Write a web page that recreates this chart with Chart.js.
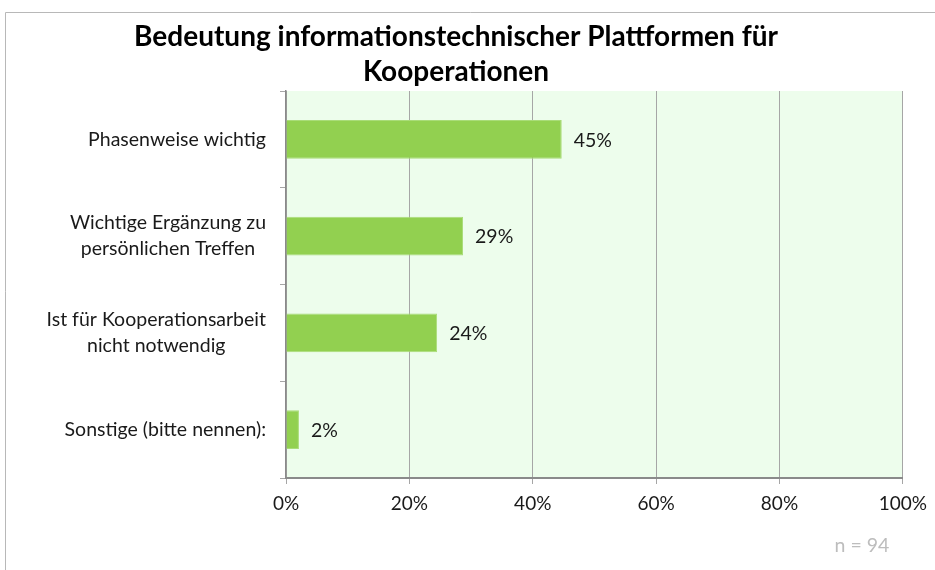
<!DOCTYPE html>
<html>
<head>
<meta charset="utf-8">
<script src="https://cdn.jsdelivr.net/npm/chart.js@4.4.1/dist/chart.umd.min.js"></script>
<style>
  html, body { margin: 0; padding: 0; background: #fff; }
  #wrap { position: relative; width: 935px; height: 570px; }
</style>
</head>
<body>
<div id="wrap"><canvas id="plattformChart" width="935" height="570"></canvas></div>
<script>
// Daten
const kategorien = [
    ['Phasenweise wichtig'],
    ['Wichtige Ergänzung zu', 'persönlichen Treffen'],
    ['Ist für Kooperationsarbeit', 'nicht notwendig'],
    ['Sonstige (bitte nennen):']
];
const anteile = [44.7, 28.7, 24.5, 2.1];
const wertLabels = ['45%', '29%', '24%', '2%'];
const achsenTicks = [0, 20, 40, 60, 80, 100];
const titelZeilen = ['Bedeutung informationstechnischer Plattformen für', 'Kooperationen'];
const stichprobe = 'n = 94';

const schrift = 'Lato, "Open Sans", sans-serif';

const deko = {
    id: 'deko',
    beforeDraw(chart) {
        const ctx = chart.ctx;
        const a = chart.chartArea;
        ctx.save();
        ctx.fillStyle = '#ffffff';
        ctx.fillRect(0, 0, chart.width, chart.height);
        // Rahmen
        ctx.strokeStyle = '#b8b8b8';
        ctx.lineWidth = 1;
        ctx.beginPath();
        ctx.moveTo(5.5, chart.height);
        ctx.lineTo(5.5, 12.5);
        ctx.lineTo(chart.width, 12.5);
        ctx.stroke();
        // Hintergrund Zeichenfläche
        ctx.fillStyle = '#edfdec';
        ctx.fillRect(a.left, a.top, a.right - a.left, a.bottom - a.top);
        ctx.restore();
    },
    afterDatasetsDraw(chart) {
        const ctx = chart.ctx;
        const meta = chart.getDatasetMeta(0);
        ctx.save();
        ctx.font = '19.5px ' + schrift;
        ctx.fillStyle = '#1a1a1a';
        ctx.textAlign = 'left';
        ctx.textBaseline = 'middle';
        meta.data.forEach(function(bar, i) {
            ctx.fillText(wertLabels[i], bar.x + 12, bar.y + 1);
        });
        ctx.restore();
    },
    afterDraw(chart) {
        const ctx = chart.ctx;
        const yScale = chart.scales.y;
        ctx.save();
        ctx.font = '19.5px ' + schrift;
        ctx.fillStyle = '#1a1a1a';
        ctx.textAlign = 'center';
        ctx.textBaseline = 'middle';
        const zeilenHoehe = 26;
        const rechts = chart.chartArea.left - 20;
        kategorien.forEach(function(zeilen, i) {
            const mitte = yScale.getPixelForValue(i);
            const breite = Math.max.apply(null, zeilen.map(z => ctx.measureText(z).width));
            const cx = rechts - breite / 2;
            const start = mitte - (zeilen.length - 1) * zeilenHoehe / 2;
            zeilen.forEach(function(z, k) {
                ctx.fillText(z, cx, start + k * zeilenHoehe);
            });
        });
        // Stichprobe
        ctx.fillStyle = '#bdbdbd';
        ctx.fillText(stichprobe, 862, 546);
        ctx.restore();
    }
};

const ctx = document.getElementById('plattformChart').getContext('2d');
new Chart(ctx, {
    type: 'bar',
    data: {
        labels: kategorien,
        datasets: [{
            data: anteile,
            backgroundColor: '#92d050',
            borderColor: '#a9dc78',
            borderWidth: 1,
            borderSkipped: 'left',
            barPercentage: 0.4,
            categoryPercentage: 1.0
        }]
    },
    options: {
        indexAxis: 'y',
        responsive: false,
        animation: false,
        layout: {
            padding: { left: 6, right: 29, top: 14, bottom: 0 }
        },
        plugins: {
            legend: { display: false },
            tooltip: { enabled: false },
            title: {
                display: true,
                text: titelZeilen,
                color: '#000000',
                font: { family: schrift, size: 28, weight: 'bold', lineHeight: 1.25 },
                padding: { top: 5, bottom: 2 }
            }
        },
        scales: {
            x: {
                min: 0,
                max: 100,
                afterBuildTicks: function(scale) {
                    scale.ticks = achsenTicks.map(v => ({ value: v }));
                },
                afterFit: function(scale) {
                    scale.height = 92;
                },
                ticks: {
                    callback: v => v + '%',
                    color: '#1a1a1a',
                    padding: 8,
                    font: { family: schrift, size: 19 }
                },
                grid: {
                    color: '#a6a6a6',
                    lineWidth: 1,
                    tickLength: 6,
                    drawTicks: true
                },
                border: { color: '#8a8a8a', width: 2 }
            },
            y: {
                ticks: { display: false },
                afterFit: function(scale) {
                    scale.width = 280;
                },
                grid: {
                    offset: true,
                    drawOnChartArea: false,
                    drawTicks: true,
                    tickLength: 6,
                    color: '#a6a6a6'
                },
                border: { color: '#8a8a8a', width: 1.5 }
            }
        }
    },
    plugins: [deko]
});
</script>
</body>
</html>
